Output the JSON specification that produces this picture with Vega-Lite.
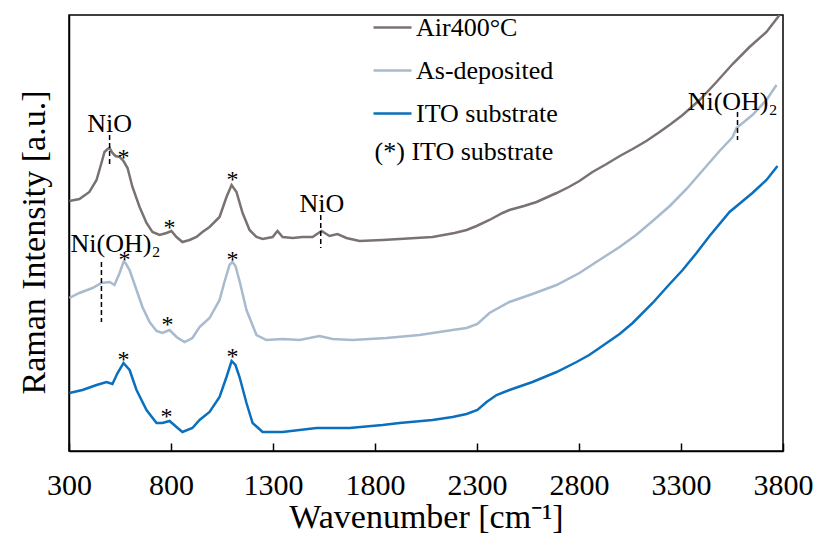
{
  "$schema": "https://vega.github.io/schema/vega-lite/v6.json",
  "width": 714,
  "height": 436,
  "autosize": {"type": "none"},
  "padding": {"left": 69, "top": 15, "right": 33, "bottom": 88},
  "background": "white",
  "config": {
    "view": {"stroke": "black", "strokeWidth": 1.5},
    "font": "Liberation Serif",
    "axis": {"grid": false, "domainColor": "black", "domainWidth": 1.5, "tickColor": "black", "labelColor": "black", "titleColor": "black", "labelFont": "Liberation Serif", "titleFont": "Liberation Serif", "titleFontWeight": "normal"},
    "legend": {"labelFont": "Liberation Serif"}
  },
  "datasets": {
    "spectra": [
      {"s": "Air400°C", "w": 302, "i": 250}, {"s": "Air400°C", "w": 351, "i": 252}, {"s": "Air400°C", "w": 400, "i": 259}, {"s": "Air400°C", "w": 435, "i": 271}, {"s": "Air400°C", "w": 459, "i": 288}, {"s": "Air400°C", "w": 474, "i": 299}, {"s": "Air400°C", "w": 489, "i": 302}, {"s": "Air400°C", "w": 499, "i": 303}, {"s": "Air400°C", "w": 513, "i": 298}, {"s": "Air400°C", "w": 528, "i": 295}, {"s": "Air400°C", "w": 548, "i": 294}, {"s": "Air400°C", "w": 567, "i": 290}, {"s": "Air400°C", "w": 587, "i": 283}, {"s": "Air400°C", "w": 611, "i": 264}, {"s": "Air400°C", "w": 646, "i": 244}, {"s": "Air400°C", "w": 680, "i": 228}, {"s": "Air400°C", "w": 709, "i": 219}, {"s": "Air400°C", "w": 744, "i": 216}, {"s": "Air400°C", "w": 778, "i": 218}, {"s": "Air400°C", "w": 802, "i": 220}, {"s": "Air400°C", "w": 827, "i": 214}, {"s": "Air400°C", "w": 856, "i": 209}, {"s": "Air400°C", "w": 891, "i": 211}, {"s": "Air400°C", "w": 925, "i": 214}, {"s": "Air400°C", "w": 954, "i": 219}, {"s": "Air400°C", "w": 989, "i": 224}, {"s": "Air400°C", "w": 1038, "i": 234}, {"s": "Air400°C", "w": 1072, "i": 254}, {"s": "Air400°C", "w": 1097, "i": 266}, {"s": "Air400°C", "w": 1121, "i": 259}, {"s": "Air400°C", "w": 1151, "i": 238}, {"s": "Air400°C", "w": 1185, "i": 221}, {"s": "Air400°C", "w": 1219, "i": 214}, {"s": "Air400°C", "w": 1249, "i": 212}, {"s": "Air400°C", "w": 1298, "i": 214}, {"s": "Air400°C", "w": 1322, "i": 220}, {"s": "Air400°C", "w": 1347, "i": 214}, {"s": "Air400°C", "w": 1396, "i": 213}, {"s": "Air400°C", "w": 1445, "i": 214}, {"s": "Air400°C", "w": 1494, "i": 214}, {"s": "Air400°C", "w": 1538, "i": 220}, {"s": "Air400°C", "w": 1577, "i": 215}, {"s": "Air400°C", "w": 1616, "i": 217}, {"s": "Air400°C", "w": 1660, "i": 213}, {"s": "Air400°C", "w": 1724, "i": 210}, {"s": "Air400°C", "w": 1837, "i": 211}, {"s": "Air400°C", "w": 1920, "i": 212}, {"s": "Air400°C", "w": 2000, "i": 213}, {"s": "Air400°C", "w": 2082, "i": 214}, {"s": "Air400°C", "w": 2190, "i": 218}, {"s": "Air400°C", "w": 2249, "i": 221}, {"s": "Air400°C", "w": 2298, "i": 225}, {"s": "Air400°C", "w": 2361, "i": 231}, {"s": "Air400°C", "w": 2425, "i": 238}, {"s": "Air400°C", "w": 2459, "i": 241}, {"s": "Air400°C", "w": 2530, "i": 245}, {"s": "Air400°C", "w": 2592, "i": 249}, {"s": "Air400°C", "w": 2690, "i": 258}, {"s": "Air400°C", "w": 2750, "i": 264}, {"s": "Air400°C", "w": 2802, "i": 270}, {"s": "Air400°C", "w": 2866, "i": 279}, {"s": "Air400°C", "w": 2935, "i": 287}, {"s": "Air400°C", "w": 3000, "i": 295}, {"s": "Air400°C", "w": 3063, "i": 302}, {"s": "Air400°C", "w": 3130, "i": 310}, {"s": "Air400°C", "w": 3195, "i": 319}, {"s": "Air400°C", "w": 3250, "i": 327}, {"s": "Air400°C", "w": 3308, "i": 336}, {"s": "Air400°C", "w": 3391, "i": 351}, {"s": "Air400°C", "w": 3474, "i": 369}, {"s": "Air400°C", "w": 3553, "i": 387}, {"s": "Air400°C", "w": 3636, "i": 404}, {"s": "Air400°C", "w": 3719, "i": 419}, {"s": "Air400°C", "w": 3783, "i": 436},
      {"s": "As-deposited", "w": 302, "i": 153}, {"s": "As-deposited", "w": 351, "i": 158}, {"s": "As-deposited", "w": 415, "i": 163}, {"s": "As-deposited", "w": 459, "i": 168}, {"s": "As-deposited", "w": 499, "i": 169}, {"s": "As-deposited", "w": 523, "i": 166}, {"s": "As-deposited", "w": 548, "i": 178}, {"s": "As-deposited", "w": 567, "i": 189}, {"s": "As-deposited", "w": 577, "i": 188}, {"s": "As-deposited", "w": 597, "i": 181}, {"s": "As-deposited", "w": 631, "i": 161}, {"s": "As-deposited", "w": 660, "i": 144}, {"s": "As-deposited", "w": 695, "i": 129}, {"s": "As-deposited", "w": 729, "i": 120}, {"s": "As-deposited", "w": 758, "i": 118}, {"s": "As-deposited", "w": 793, "i": 121}, {"s": "As-deposited", "w": 827, "i": 114}, {"s": "As-deposited", "w": 866, "i": 109}, {"s": "As-deposited", "w": 905, "i": 113}, {"s": "As-deposited", "w": 940, "i": 124}, {"s": "As-deposited", "w": 989, "i": 133}, {"s": "As-deposited", "w": 1038, "i": 151}, {"s": "As-deposited", "w": 1062, "i": 169}, {"s": "As-deposited", "w": 1087, "i": 186}, {"s": "As-deposited", "w": 1101, "i": 189}, {"s": "As-deposited", "w": 1116, "i": 185}, {"s": "As-deposited", "w": 1136, "i": 170}, {"s": "As-deposited", "w": 1170, "i": 141}, {"s": "As-deposited", "w": 1219, "i": 116}, {"s": "As-deposited", "w": 1268, "i": 111}, {"s": "As-deposited", "w": 1347, "i": 112}, {"s": "As-deposited", "w": 1430, "i": 111}, {"s": "As-deposited", "w": 1528, "i": 115}, {"s": "As-deposited", "w": 1592, "i": 112}, {"s": "As-deposited", "w": 1690, "i": 111}, {"s": "As-deposited", "w": 1856, "i": 113}, {"s": "As-deposited", "w": 2018, "i": 116}, {"s": "As-deposited", "w": 2180, "i": 121}, {"s": "As-deposited", "w": 2249, "i": 123}, {"s": "As-deposited", "w": 2302, "i": 127}, {"s": "As-deposited", "w": 2361, "i": 138}, {"s": "As-deposited", "w": 2459, "i": 149}, {"s": "As-deposited", "w": 2572, "i": 157}, {"s": "As-deposited", "w": 2690, "i": 166}, {"s": "As-deposited", "w": 2802, "i": 178}, {"s": "As-deposited", "w": 2900, "i": 191}, {"s": "As-deposited", "w": 2999, "i": 204}, {"s": "As-deposited", "w": 3080, "i": 216}, {"s": "As-deposited", "w": 3161, "i": 230}, {"s": "As-deposited", "w": 3245, "i": 245}, {"s": "As-deposited", "w": 3327, "i": 262}, {"s": "As-deposited", "w": 3425, "i": 285}, {"s": "As-deposited", "w": 3489, "i": 300}, {"s": "As-deposited", "w": 3553, "i": 314}, {"s": "As-deposited", "w": 3572, "i": 323}, {"s": "As-deposited", "w": 3650, "i": 336}, {"s": "As-deposited", "w": 3719, "i": 351}, {"s": "As-deposited", "w": 3768, "i": 366},
      {"s": "ITO substrate", "w": 302, "i": 58}, {"s": "ITO substrate", "w": 366, "i": 61}, {"s": "ITO substrate", "w": 435, "i": 66}, {"s": "ITO substrate", "w": 484, "i": 69}, {"s": "ITO substrate", "w": 513, "i": 67}, {"s": "ITO substrate", "w": 538, "i": 78}, {"s": "ITO substrate", "w": 567, "i": 88}, {"s": "ITO substrate", "w": 597, "i": 81}, {"s": "ITO substrate", "w": 631, "i": 61}, {"s": "ITO substrate", "w": 680, "i": 41}, {"s": "ITO substrate", "w": 729, "i": 28}, {"s": "ITO substrate", "w": 758, "i": 28}, {"s": "ITO substrate", "w": 793, "i": 30}, {"s": "ITO substrate", "w": 827, "i": 24}, {"s": "ITO substrate", "w": 856, "i": 19}, {"s": "ITO substrate", "w": 905, "i": 23}, {"s": "ITO substrate", "w": 940, "i": 31}, {"s": "ITO substrate", "w": 989, "i": 39}, {"s": "ITO substrate", "w": 1038, "i": 54}, {"s": "ITO substrate", "w": 1072, "i": 74}, {"s": "ITO substrate", "w": 1097, "i": 90}, {"s": "ITO substrate", "w": 1116, "i": 86}, {"s": "ITO substrate", "w": 1136, "i": 74}, {"s": "ITO substrate", "w": 1170, "i": 48}, {"s": "ITO substrate", "w": 1200, "i": 28}, {"s": "ITO substrate", "w": 1249, "i": 19}, {"s": "ITO substrate", "w": 1347, "i": 19}, {"s": "ITO substrate", "w": 1513, "i": 23}, {"s": "ITO substrate", "w": 1675, "i": 23}, {"s": "ITO substrate", "w": 1837, "i": 26}, {"s": "ITO substrate", "w": 1920, "i": 28}, {"s": "ITO substrate", "w": 2082, "i": 31}, {"s": "ITO substrate", "w": 2180, "i": 34}, {"s": "ITO substrate", "w": 2249, "i": 37}, {"s": "ITO substrate", "w": 2302, "i": 41}, {"s": "ITO substrate", "w": 2347, "i": 49}, {"s": "ITO substrate", "w": 2396, "i": 56}, {"s": "ITO substrate", "w": 2459, "i": 61}, {"s": "ITO substrate", "w": 2572, "i": 69}, {"s": "ITO substrate", "w": 2690, "i": 79}, {"s": "ITO substrate", "w": 2788, "i": 89}, {"s": "ITO substrate", "w": 2850, "i": 96}, {"s": "ITO substrate", "w": 2900, "i": 103}, {"s": "ITO substrate", "w": 2999, "i": 117}, {"s": "ITO substrate", "w": 3063, "i": 128}, {"s": "ITO substrate", "w": 3161, "i": 148}, {"s": "ITO substrate", "w": 3240, "i": 166}, {"s": "ITO substrate", "w": 3308, "i": 181}, {"s": "ITO substrate", "w": 3376, "i": 198}, {"s": "ITO substrate", "w": 3440, "i": 215}, {"s": "ITO substrate", "w": 3538, "i": 239}, {"s": "ITO substrate", "w": 3650, "i": 258}, {"s": "ITO substrate", "w": 3719, "i": 271}, {"s": "ITO substrate", "w": 3773, "i": 285}
    ],
    "dashes": [
      {"w": 499, "y1": 316, "y2": 284},
      {"w": 459, "y1": 189, "y2": 129},
      {"w": 1534, "y1": 236, "y2": 203},
      {"w": 3577, "y1": 339, "y2": 311}
    ],
    "labels": [
      {"w": 499, "i": 319, "t": "NiO"},
      {"w": 1540, "i": 239, "t": "NiO"},
      {"w": 528, "i": 199, "t": "Ni(OH)₂"},
      {"w": 3553, "i": 341, "t": "Ni(OH)₂"}
    ],
    "stars": [
      {"w": 567, "i": 286}, {"w": 1101, "i": 264}, {"w": 793, "i": 216},
      {"w": 572, "i": 184}, {"w": 1101, "i": 184}, {"w": 783, "i": 119},
      {"w": 567, "i": 84}, {"w": 1101, "i": 87}, {"w": 778, "i": 27}
    ],
    "note": [
      {"w": 1798, "i": 299, "t": "(*) ITO substrate"}
    ]
  },
  "layer": [
    {
      "data": {"name": "spectra"},
      "mark": {"type": "line", "strokeWidth": 2.5, "clip": true},
      "encoding": {
        "x": {"field": "w", "type": "quantitative", "scale": {"domain": [300, 3800], "nice": false, "zero": false},
          "axis": {"values": [300, 800, 1300, 1800, 2300, 2800, 3300, 3800], "format": "d", "tickSize": -8, "tickWidth": 1.5, "labelFont": "Liberation Serif", "labelFontSize": 30, "labelPadding": 27, "labelFlush": false, "title": "Wavenumber [cm⁻¹]", "titleFontSize": 34, "titlePadding": 0}},
        "y": {"field": "i", "type": "quantitative", "scale": {"domain": [0, 436], "nice": false, "zero": false},
          "axis": {"labels": false, "ticks": false, "title": "Raman Intensity [a.u.]", "titleFontSize": 34, "titlePadding": 18, "titleY": 227}},
        "color": {"field": "s", "type": "nominal",
          "scale": {"domain": ["Air400°C", "As-deposited", "ITO substrate"], "range": ["#7a7272", "#a8bace", "#0a70bd"]},
          "legend": {"title": null, "orient": "none", "legendX": 303, "legendY": -8, "symbolType": "stroke", "symbolSize": 1444, "symbolStrokeWidth": 2.5, "labelFontSize": 26, "labelFont": "Liberation Serif", "labelColor": "black", "labelOffset": 3, "rowPadding": 9, "padding": 0}},
        "order": {"field": "w", "type": "quantitative"}
      }
    },
    {
      "data": {"name": "dashes"},
      "mark": {"type": "rule", "color": "black", "strokeWidth": 1.5, "strokeDash": [5, 3]},
      "encoding": {
        "x": {"field": "w", "type": "quantitative"},
        "y": {"field": "y1", "type": "quantitative"},
        "y2": {"field": "y2"}
      }
    },
    {
      "data": {"name": "labels"},
      "mark": {"type": "text", "fontSize": 26, "font": "Liberation Serif", "color": "black", "align": "center", "baseline": "alphabetic"},
      "encoding": {
        "x": {"field": "w", "type": "quantitative"},
        "y": {"field": "i", "type": "quantitative"},
        "text": {"field": "t"}
      }
    },
    {
      "data": {"name": "stars"},
      "mark": {"type": "text", "fontSize": 24, "font": "Liberation Serif", "color": "black", "align": "center", "baseline": "alphabetic", "text": "*"},
      "encoding": {
        "x": {"field": "w", "type": "quantitative"},
        "y": {"field": "i", "type": "quantitative"}
      }
    },
    {
      "data": {"name": "note"},
      "mark": {"type": "text", "fontSize": 26, "font": "Liberation Serif", "color": "black", "align": "left", "baseline": "middle"},
      "encoding": {
        "x": {"field": "w", "type": "quantitative"},
        "y": {"field": "i", "type": "quantitative"},
        "text": {"field": "t"}
      }
    }
  ]
}
